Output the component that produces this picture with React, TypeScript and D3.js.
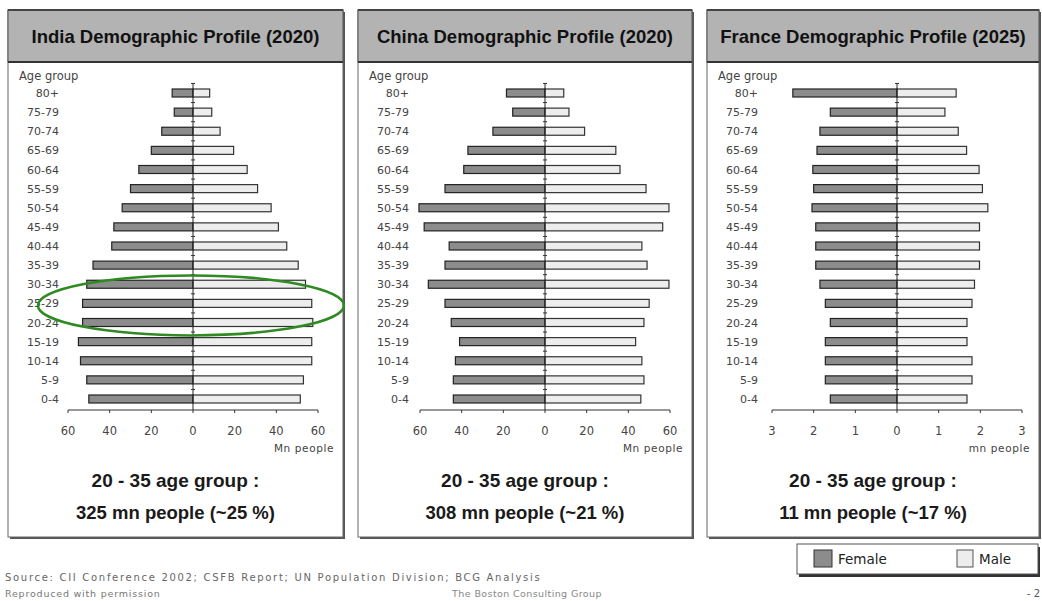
import React from 'react';
import * as d3 from 'd3';

const ageGroups = ['80+', '75-79', '70-74', '65-69', '60-64', '55-59', '50-54', '45-49', '40-44',
  '35-39', '30-34', '25-29', '20-24', '15-19', '10-14', '5-9', '0-4'];

const indiaFemale = [10, 9, 15, 20, 26, 30, 34, 38, 39, 48, 51, 53, 53, 55, 54, 51, 50];
const indiaMale = [8, 9, 13, 19.5, 26, 31, 37.5, 41, 45, 50.5, 54, 57, 57.5, 57, 57, 53, 51.5];
const chinaFemale = [18.5, 15.5, 25, 37, 39, 48, 60.5, 58, 46, 48, 56, 48, 45, 41, 43, 44, 44];
const chinaMale = [9, 11.5, 19, 34, 36, 48.5, 59.5, 56.5, 46.5, 49, 59.5, 50, 47.5, 43.5, 46.5, 47.5, 46];
const franceFemale = [2.5, 1.6, 1.85, 1.92, 2.02, 2.0, 2.04, 1.95, 1.95, 1.95, 1.85, 1.72, 1.6, 1.72, 1.72, 1.72, 1.6];
const franceMale = [1.42, 1.15, 1.47, 1.67, 1.97, 2.05, 2.18, 1.98, 1.98, 1.98, 1.86, 1.8, 1.68, 1.68, 1.8, 1.8, 1.68];

const mnTicks = [-60, -40, -20, 0, 20, 40, 60];
const frTicks = [-3, -2, -1, 0, 1, 2, 3];

const FONT = '"Liberation Sans", Arial, sans-serif';
const SMALL = '"DejaVu Sans", Verdana, sans-serif';
const FEMALE_FILL = '#8c8c8c';
const MALE_FILL = '#ededed';

type PanelDef = {
  title: string;
  female: number[];
  male: number[];
  max: number;
  ticks: number[];
  unit: string;
  line1: string;
  line2: string;
  highlight?: string[];
};

const panels: PanelDef[] = [
  { title: 'India Demographic Profile (2020)', female: indiaFemale, male: indiaMale, max: 60, ticks: mnTicks,
    unit: 'Mn people', line1: '20 - 35 age group :', line2: '325 mn people (~25 %)', highlight: ['30-34', '20-24'] },
  { title: 'China Demographic Profile (2020)', female: chinaFemale, male: chinaMale, max: 60, ticks: mnTicks,
    unit: 'Mn people', line1: '20 - 35 age group :', line2: '308 mn people (~21 %)' },
  { title: 'France Demographic Profile (2025)', female: franceFemale, male: franceMale, max: 3, ticks: frTicks,
    unit: 'mn people', line1: '20 - 35 age group :', line2: '11 mn people (~17 %)' },
];

const panelX = [8, 358, 707];
const panelW = [335, 334, 332];
const zeroOff = [185, 187, 190];

function Panel({ p, i }: { p: PanelDef; i: number }) {
  const left = panelX[i];
  const w = panelW[i];
  const top = 10;
  const bottom = 537;
  const zero = left + zeroOff[i];
  const half = 125;
  const x = d3.scaleLinear().domain([-p.max, p.max]).range([zero - half, zero + half]);
  const y = d3.scalePoint<string>().domain(ageGroups).range([93, 399]);
  const step = y.step();
  const barH = 8;
  const axisY = 410;

  let ellipse = null;
  if (p.highlight) {
    const cy = (y(p.highlight[0])! + y(p.highlight[1])!) / 2;
    ellipse = (
      <ellipse cx={x(-1)} cy={cy + 2} rx={153} ry={30} fill="none" stroke="#2f8a22" strokeWidth={2.5} />
    );
  }

  return (
    <g>
      <rect x={left + 2} y={top + 2} width={w} height={bottom - top} fill="#555" />
      <rect x={left} y={top} width={w} height={bottom - top} fill="#fff" stroke="#666" strokeWidth={1} />
      <rect x={left} y={top} width={w} height={52} fill="#b3b3b3" stroke="#555" strokeWidth={1} />
      <line x1={left} x2={left + w} y1={top + 52} y2={top + 52} stroke="#333" strokeWidth={2} />
      <line x1={left} x2={left + w} y1={top} y2={top} stroke="#444" strokeWidth={2} />
      <text x={left + w / 2} y={42.5} textAnchor="middle" fontFamily={FONT} fontWeight="bold" fontSize={18.5} fill="#111">
        {p.title}
      </text>
      <text x={left + 11} y={80} fontFamily={SMALL} fontSize={11.5} fill="#444">Age group</text>
      {ageGroups.map(a => (
        <text key={a} x={left + 51} y={y(a)! + 4} textAnchor="end" fontFamily={SMALL} fontSize={11} fill="#444">{a}</text>
      ))}
      {ageGroups.map((a, k) => (
        <g key={'b' + a}>
          <rect x={x(-p.female[k])} y={y(a)! - barH / 2} width={x(0) - x(-p.female[k])} height={barH}
            fill={FEMALE_FILL} stroke="#222" strokeWidth={1.2} />
          <rect x={x(0)} y={y(a)! - barH / 2} width={x(p.male[k]) - x(0)} height={barH}
            fill={MALE_FILL} stroke="#333" strokeWidth={1.2} />
        </g>
      ))}
      <line x1={x(0)} x2={x(0)} y1={83} y2={axisY} stroke="#222" strokeWidth={1} />
      {ageGroups.map(a => (
        <line key={'t' + a} x1={x(0) - 2} x2={x(0) + 2} y1={y(a)! - step / 2} y2={y(a)! - step / 2} stroke="#333" />
      ))}
      <line x1={x(-p.max)} x2={x(p.max)} y1={axisY} y2={axisY} stroke="#333" strokeWidth={1} />
      {p.ticks.map(t => (
        <g key={'x' + t}>
          <line x1={x(t)} x2={x(t)} y1={axisY} y2={axisY + 3} stroke="#333" />
          <text x={x(t)} y={axisY + 25} textAnchor="middle" fontFamily={SMALL} fontSize={11.5} fill="#444">{Math.abs(t)}</text>
        </g>
      ))}
      <text x={left + w - 9} y={452} textAnchor="end" fontFamily={SMALL} fontSize={10.5} letterSpacing={0.6} fill="#444">{p.unit}</text>
      <text x={left + w / 2} y={487} textAnchor="middle" fontFamily={FONT} fontWeight="bold" fontSize={19} fill="#1a1a1a">{p.line1}</text>
      <text x={left + w / 2} y={519} textAnchor="middle" fontFamily={FONT} fontWeight="bold" fontSize={18.5} fill="#1a1a1a">{p.line2}</text>
      {ellipse}
    </g>
  );
}

export default function App() {
  return (
    <svg width={1042} height={601} style={{ position: 'absolute', left: 0, top: 0, background: '#fff' }}>
      {panels.map((p, i) => <Panel key={p.title} p={p} i={i} />)}
      <rect x={799} y={547} width={241} height={30} fill="#333" />
      <rect x={797} y={544} width={241} height={30} fill="#fff" stroke="#555" />
      <rect x={814} y={550} width={18} height={17} fill={FEMALE_FILL} stroke="#333" />
      <text x={838} y={564} fontFamily={SMALL} fontSize={13.5} fill="#222">Female</text>
      <rect x={957} y={550} width={16} height={17} fill={MALE_FILL} stroke="#555" />
      <text x={979} y={564} fontFamily={SMALL} fontSize={13.5} fill="#222">Male</text>
      <text x={5} y={581} fontFamily={SMALL} fontSize={10} letterSpacing={1.7} fill="#666">
        Source:  CII Conference 2002; CSFB Report; UN Population Division; BCG Analysis
      </text>
      <text x={5} y={597} fontFamily={SMALL} fontSize={9.5} letterSpacing={0.8} fill="#777">Reproduced with permission</text>
      <text x={527} y={597} textAnchor="middle" fontFamily={SMALL} fontSize={9.5} letterSpacing={0.4} fill="#888">The Boston Consulting Group</text>
      <text x={1040} y={597} textAnchor="end" fontFamily={SMALL} fontSize={10} fill="#555">- 2</text>
    </svg>
  );
}
